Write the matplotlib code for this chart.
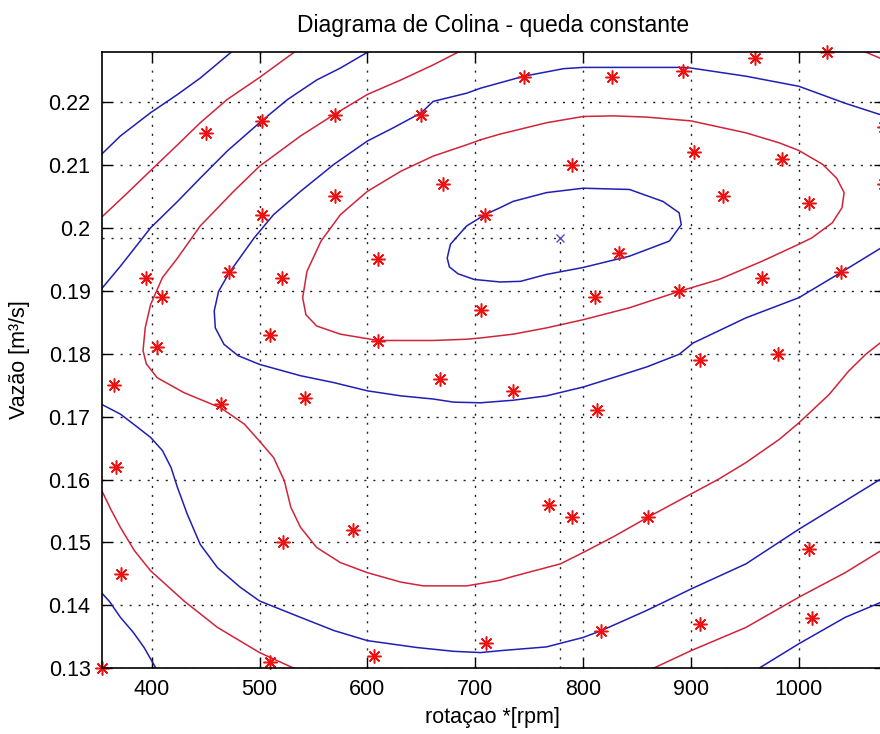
import matplotlib
matplotlib.use("Agg")
import matplotlib.pyplot as plt
import numpy as np

plt.rcParams["font.family"] = ["Liberation Sans", "DejaVu Sans"]

# measured points (rotation rpm, flow m3/s)
rot_pts = [450, 502, 570, 650, 670, 570, 502, 709, 610, 472, 395, 521, 410, 705,
           510, 610, 405, 745, 827, 893, 959, 1026, 1079, 1079, 790, 903, 984,
           930, 1009, 833, 1039, 966, 811, 889, 908, 981, 365, 464, 542, 667,
           367, 587, 522, 372, 710, 606, 510, 354, 735, 813, 768, 790, 860,
           1009, 817, 908, 1012]
flow_pts = [0.215, 0.217, 0.218, 0.218, 0.207, 0.205, 0.202, 0.202, 0.195, 0.193,
            0.192, 0.192, 0.189, 0.187, 0.183, 0.182, 0.181, 0.224, 0.224, 0.225,
            0.227, 0.228, 0.216, 0.207, 0.210, 0.212, 0.211, 0.205, 0.204, 0.196,
            0.193, 0.192, 0.189, 0.190, 0.179, 0.180, 0.175, 0.172, 0.173, 0.176,
            0.162, 0.152, 0.150, 0.145, 0.134, 0.132, 0.131, 0.130, 0.174, 0.171,
            0.156, 0.154, 0.154, 0.149, 0.136, 0.137, 0.138]

# best point
rot_opt = 778.5
flow_opt = 0.1984

# contour lines (x = rpm, y = m3/s)
blue1_a_x = [353, 371, 399, 424, 445, 475]
blue1_a_y = [0.2116, 0.2146, 0.2183, 0.2212, 0.2238, 0.2281]
blue1_b_x = [353, 361, 371, 383, 393, 404]
blue1_b_y = [0.1421, 0.1406, 0.1381, 0.1357, 0.1333, 0.1300]
blue1_c_x = [963, 1000, 1043, 1079]
blue1_c_y = [0.1300, 0.1339, 0.1381, 0.1407]

red2_a_x = [353, 376, 399, 424, 445, 470, 500, 532]
red2_a_y = [0.2016, 0.2053, 0.2091, 0.2132, 0.2167, 0.2204, 0.2239, 0.2279]
red2_b_x = [353, 362, 371, 384, 399, 430, 461, 500, 532]
red2_b_y = [0.1585, 0.1553, 0.1524, 0.1487, 0.1455, 0.1407, 0.1365, 0.1325, 0.1300]
red2_c_x = [865, 900, 951, 1000, 1043, 1079]
red2_c_y = [0.1300, 0.1328, 0.1365, 0.1413, 0.1452, 0.1490]

blue3_a_x = [353, 371, 399, 424, 445, 470, 502, 526, 553, 575, 600]
blue3_a_y = [0.1902, 0.1939, 0.2000, 0.2042, 0.2079, 0.2122, 0.2170, 0.2204,
             0.2235, 0.2254, 0.2279]
blue3_b_x = [353, 371, 387, 399, 410, 418, 424, 433, 445, 461, 482, 500, 538,
             569, 600, 646, 680, 705, 723, 766, 800, 817, 859, 900, 951, 1000,
             1043, 1079]
blue3_b_y = [0.1720, 0.1704, 0.1683, 0.1667, 0.1646, 0.1619, 0.1587, 0.1545,
             0.1497, 0.1460, 0.1429, 0.1407, 0.1381, 0.1360, 0.1344, 0.1333,
             0.1327, 0.1325, 0.1328, 0.1334, 0.1349, 0.1360, 0.1392, 0.1426,
             0.1466, 0.1521, 0.1566, 0.1604]

red4_a_x = [685, 661, 631, 600, 570, 538, 500, 476, 445, 424, 410, 399, 394,
            392, 395, 405, 430, 464, 486, 500, 513, 523, 529, 538, 553, 575,
            600, 631, 652, 692, 723, 735, 779, 800, 828, 860, 900, 926, 951,
            982, 1000, 1028, 1046, 1062, 1079]
red4_a_y = [0.2280, 0.2259, 0.2235, 0.2212, 0.2181, 0.2146, 0.2098, 0.2058,
            0.2003, 0.1952, 0.1921, 0.1878, 0.1841, 0.1805, 0.1784, 0.1762,
            0.1738, 0.1714, 0.1688, 0.1661, 0.1635, 0.1598, 0.1556, 0.1524,
            0.1492, 0.1468, 0.1452, 0.1437, 0.1431, 0.1431, 0.1440, 0.1446,
            0.1466, 0.1484, 0.1509, 0.1540, 0.1577, 0.1601, 0.1627, 0.1664,
            0.1690, 0.1735, 0.1772, 0.1799, 0.1822]
red4_b_x = [1061, 1079]
red4_b_y = [0.2280, 0.2267]

blue5_x = [1079, 1043, 1000, 951, 900, 893, 828, 800, 782, 745, 705, 692, 661,
           650, 624, 600, 569, 538, 513, 495, 472, 462, 458, 459, 467, 480,
           500, 538, 569, 600, 631, 661, 680, 705, 735, 766, 800, 828, 859,
           889, 902, 951, 1000, 1039, 1079]
blue5_y = [0.2178, 0.2198, 0.2225, 0.2241, 0.2254, 0.2255, 0.2255, 0.2255,
           0.2253, 0.2241, 0.2222, 0.2214, 0.2201, 0.2183, 0.2159, 0.2138,
           0.2101, 0.2058, 0.2021, 0.1984, 0.1929, 0.1899, 0.1868, 0.1841,
           0.1815, 0.1797, 0.1783, 0.1765, 0.1754, 0.1741, 0.1733, 0.1728,
           0.1723, 0.1722, 0.1726, 0.1733, 0.1747, 0.1762, 0.1779, 0.1799,
           0.1817, 0.1857, 0.1889, 0.1929, 0.1971]

red6_x = [705, 723, 735, 766, 800, 828, 859, 900, 951, 982, 1000, 1022, 1035,
          1042, 1040, 1031, 1012, 1000, 966, 926, 889, 843, 800, 766, 735,
          705, 692, 661, 610, 575, 553, 543, 540, 544, 557, 575, 600, 631,
          661, 692, 705]
red6_y = [0.2140, 0.2149, 0.2154, 0.2167, 0.2177, 0.2178, 0.2176, 0.2170,
          0.2151, 0.2135, 0.2123, 0.2101, 0.2079, 0.2056, 0.2032, 0.2008,
          0.1984, 0.1974, 0.1947, 0.1918, 0.1899, 0.1873, 0.1854, 0.1841,
          0.1831, 0.1825, 0.1823, 0.1821, 0.1821, 0.1831, 0.1844, 0.1862,
          0.1889, 0.1931, 0.1979, 0.2021, 0.2058, 0.2090, 0.2114, 0.2132,
          0.2140]

blue7_x = [709, 723, 735, 766, 800, 843, 874, 889, 891, 880, 843, 800, 766,
           742, 723, 699, 684, 676, 674, 677, 692, 709]
blue7_y = [0.2021, 0.2032, 0.2042, 0.2056, 0.2063, 0.2061, 0.2042, 0.2024,
           0.2005, 0.1979, 0.1955, 0.1937, 0.1926, 0.1915, 0.1914, 0.1918,
           0.1927, 0.1938, 0.1952, 0.1974, 0.2003, 0.2021]

x_ticks = [400, 500, 600, 700, 800, 900, 1000]
y_ticks = [0.13, 0.14, 0.15, 0.16, 0.17, 0.18, 0.19, 0.20, 0.21, 0.22]

BLUE = "#1f1fb4"
RED = "#d0243a"

fig = plt.figure(figsize=(8.8, 7.34), dpi=100)
ax = fig.add_axes([0.1156, 0.0895, 0.889, 0.8401])

blue_lines = [(blue1_a_x, blue1_a_y), (blue1_b_x, blue1_b_y), (blue1_c_x, blue1_c_y),
              (blue3_a_x, blue3_a_y), (blue3_b_x, blue3_b_y), (blue5_x, blue5_y),
              (blue7_x, blue7_y)]
red_lines = [(red2_a_x, red2_a_y), (red2_b_x, red2_b_y), (red2_c_x, red2_c_y),
             (red4_a_x, red4_a_y), (red4_b_x, red4_b_y), (red6_x, red6_y)]
for xs, ys in blue_lines:
    ax.plot(xs, ys, color=BLUE, lw=1.1, solid_joinstyle="round")
for xs, ys in red_lines:
    ax.plot(xs, ys, color=RED, lw=1.1, solid_joinstyle="round")

# dotted lines to the best point
ax.plot([353.7, rot_opt], [flow_opt, flow_opt], color="#222222", lw=1,
        linestyle=(0, (1.5, 5)))
ax.plot([rot_opt, rot_opt], [0.13, flow_opt], color="#222222", lw=1,
        linestyle=(0, (1.5, 5)))
ax.plot([rot_opt], [flow_opt], "x", color="#5050c8", ms=6, mew=1)

ax.plot(rot_pts, flow_pts, linestyle="none", marker=(8, 2, 0), color="#ee1111",
        ms=10, mew=1.1, clip_on=False)

ax.set_xlim(353.7, 1079)
ax.set_ylim(0.13, 0.228)
ax.set_xticks(x_ticks)
ax.set_yticks(y_ticks)
ax.set_yticklabels([f"{v:g}" for v in y_ticks])
ax.grid(True, color="#222222", lw=1, linestyle=(0, (1.5, 5)))
ax.tick_params(direction="in", length=7, width=1, top=True, right=True,
               labelsize=15.5, pad=8)
for s in ax.spines.values():
    s.set_linewidth(1.2)

ax.set_title("Diagrama de Colina - queda constante", fontsize=16.5, pad=14)
ax.set_xlabel("rotaçao *[rpm]", fontsize=15.5, labelpad=5)
ax.set_ylabel("Vazão [m³/s]", fontsize=15.5, labelpad=13)

fig.savefig("out.png", dpi=100)
